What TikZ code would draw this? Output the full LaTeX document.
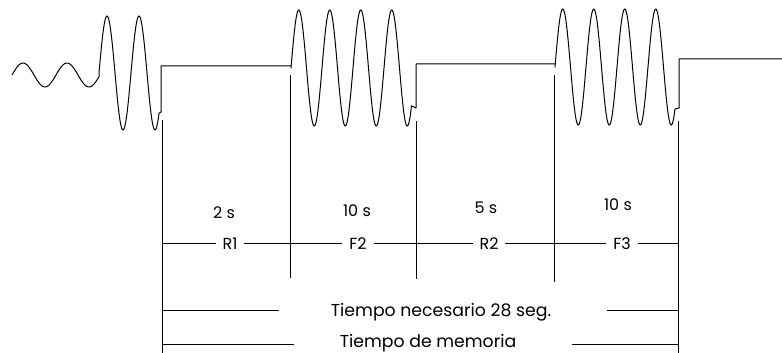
\documentclass[tikz,border=0pt]{standalone}
\usepackage{fontspec}
\setmainfont{Poppins}
\begin{document}
\begin{tikzpicture}[x=1pt,y=-1pt,line width=1pt,
  lbl/.style={inner ysep=0pt,inner xsep=0pt,anchor=base,font=\fontsize{16}{18}\selectfont},
  longlbl/.style={lbl,font=\fontsize{17.3}{19}\selectfont},
  seg/.style={lbl,inner xsep=6.5pt},
  wave/.style={line join=round}]
\useasboundingbox (0,0) rectangle (782,353);
% signal
\draw[wave] plot[domain=12:99,samples=60] (\x,{75-12*sin((\x-12)/44*360)})
  -- plot[domain=99:159,samples=120] (\x,{73-57*sin((\x-99)*11.25)})
  -- (161,112) -- (161,66) -- (291,66)
  -- plot[domain=291:411.5,samples=220] (\x,{68-58*sin((\x-291)/31*360)})
  -- (416,108) -- (416,64) -- (555,64)
  -- plot[domain=555:675,samples=220] (\x,{67-58*sin((\x-555)/31*360)})
  -- (679,108) -- (679,59) -- (782,59);
% vertical ticks
\coordinate (v1t) at (162,120); \coordinate (v1b) at (162,353);
\coordinate (v2t) at (290,75);  \coordinate (v2b) at (290,278);
\coordinate (v3t) at (416,121); \coordinate (v3b) at (416,279);
\coordinate (v4t) at (554,75);  \coordinate (v4b) at (554,282);
\coordinate (v5t) at (678.5,121); \coordinate (v5b) at (678.5,353);
\draw (v1t) -- (v1b); \draw (v2t) -- (v2b); \draw (v3t) -- (v3b);
\draw (v4t) -- (v4b); \draw (v5t) -- (v5b);
% labels
\node[lbl] (t1) at (224,218.5) {2 s};
\node[lbl] (t2) at (357,216.5) {10 s};
\node[lbl] (t3) at (486,213) {5 s};
\node[lbl] (t4) at (618,210) {10 s};
\node[seg] (r1) at (230,249) {R1};
\node[seg] (f2) at (358,249) {F2};
\node[seg] (r2) at (489,249) {R2};
\node[seg] (f3) at (622,249) {F3};
\coordinate (h1) at (162,243); \coordinate (h5) at (678.5,243);
\draw (h1) -- (h1 -| r1.west); \draw (h1 -| r1.east) -- (h1 -| f2.west);
\draw (h1 -| f2.east) -- (h1 -| r2.west); \draw (h1 -| r2.east) -- (h1 -| f3.west);
\draw (h1 -| f3.east) -- (h5);
\node[longlbl] (tn) at (441,316) {Tiempo necesario 28 seg.};
\node[longlbl] (tm) at (428,347.8) {Tiempo de memoria};
\coordinate (n1) at (162,310); \coordinate (n2) at (279,310);
\coordinate (n3) at (607,310); \coordinate (n4) at (678.5,310);
\draw (n1) -- (n2); \draw (n3) -- (n4);
\coordinate (m1) at (162,344.3); \coordinate (m2) at (294,344.3);
\coordinate (m3) at (572,344.3); \coordinate (m4) at (678.5,344.3);
\draw (m1) -- (m2); \draw (m3) -- (m4);
\end{tikzpicture}
\end{document}
